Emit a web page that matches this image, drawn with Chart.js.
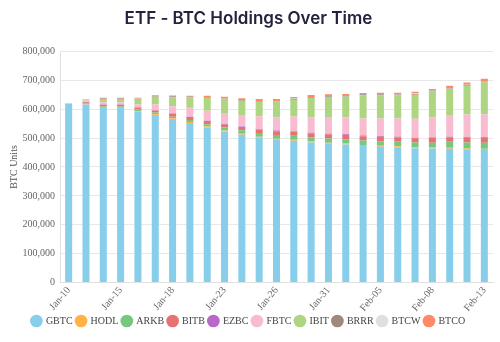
<!DOCTYPE html>
<html>
<head>
<meta charset="utf-8">
<script src="https://cdn.jsdelivr.net/npm/chart.js@4.4.1/dist/chart.umd.min.js"></script>
<style>
  html, body { margin: 0; padding: 0; background: #fff; }
  #wrap { width: 500px; height: 342px; position: relative; }
</style>
</head>
<body>
<div id="wrap"><canvas id="chart"></canvas></div>
<script>
// dates (business days)
const dates = ['Jan-10','Jan-11','Jan-12','Jan-15','Jan-16','Jan-17','Jan-18','Jan-19','Jan-22','Jan-23',
  'Jan-24','Jan-25','Jan-26','Jan-29','Jan-30','Jan-31','Feb-01','Feb-02','Feb-05','Feb-06',
  'Feb-07','Feb-08','Feb-09','Feb-12','Feb-13'];

// holdings per fund, in BTC
const gbtc = [619000,616000,604000,604000,592000,580000,566000,552000,537000,523000,
  512000,501000,494000,491000,485000,480000,478000,473000,470000,468000,
  465000,464000,463000,460000,459000];
const hodl = [1000,2000,3400,3400,2000,2500,2500,3400,3400,3400,3000,3500,3500,3500,4000,4000,3500,3500,3500,3500,3500,4000,3500,4000,4000];
const arkb = [0,2000,2000,2000,4600,5700,5700,6900,7500,10500,12500,13000,13500,13500,13500,14500,14500,15000,15500,16000,16000,16000,20500,20500,20500];
const bitb = [0,4000,5700,5700,6900,6900,9200,10300,11000,9500,10500,11500,13000,14000,14000,14500,14500,15000,16000,15500,15000,16000,16000,17000,17000];
const ezbc = [0,1000,1000,1000,1500,1500,1500,1500,1500,2500,2500,2000,2000,2000,2000,2000,2500,2500,2000,2000,2000,2000,2000,2000,2000];
const fbtc = [0,5000,8000,8000,9200,19500,25000,31000,34000,38000,39000,45000,45500,51000,53000,58000,58000,59000,61000,63000,65500,70000,75000,78000,80000];
const ibit = [0,3000,11500,11500,19000,27000,31700,36600,44000,48000,50000,50000,54000,57500,67500,69000,72000,80000,80500,80000,83000,89000,90000,100000,110500];
const brrr = [0,500,1000,1000,1000,1500,3500,2000,1000,1500,2000,2000,2000,4000,2500,2500,2000,3500,3500,3000,3000,3500,2000,3000,2500];
const btcw = [0,200,300,300,500,500,500,500,500,500,500,500,500,1000,1000,1000,1000,1000,1000,1000,1000,1000,1000,1000,1500];
const btco = [500,500,2300,2300,2500,3500,2000,2500,7000,6000,6000,6500,7000,4500,6500,6500,7000,3500,4000,5000,6000,4500,8000,6500,8000];

const yTicks = [0,100000,200000,300000,400000,500000,600000,700000,800000];

const funds = [
  { name: 'GBTC', data: gbtc, color: '#87ceeb' },
  { name: 'HODL', data: hodl, color: '#ffb347' },
  { name: 'ARKB', data: arkb, color: '#77c77f' },
  { name: 'BITB', data: bitb, color: '#e57373' },
  { name: 'EZBC', data: ezbc, color: '#ba68c8' },
  { name: 'FBTC', data: fbtc, color: '#f8bbd0' },
  { name: 'IBIT', data: ibit, color: '#aed581' },
  { name: 'BRRR', data: brrr, color: '#a1887f' },
  { name: 'BTCW', data: btcw, color: '#e0e0e0' },
  { name: 'BTCO', data: btco, color: '#ff8a65' }
];

const serif = '"Liberation Serif", "DejaVu Serif", serif';

new Chart(document.getElementById('chart'), {
  type: 'bar',
  data: {
    labels: dates,
    datasets: funds.map(f => ({
      label: f.name,
      data: f.data,
      backgroundColor: f.color,
      borderWidth: 0,
      barPercentage: 0.45,
      categoryPercentage: 0.9
    }))
  },
  options: {
    responsive: true,
    maintainAspectRatio: false,
    animation: false,
    layout: { padding: { left: 4, right: 7, top: 0, bottom: 6 } },
    plugins: {
      title: {
        display: true,
        text: 'ETF - BTC Holdings Over Time',
        color: '#23233f',
        font: { family: 'Inter, "Open Sans", sans-serif', size: 17, weight: '600' },
        padding: { top: 9, bottom: 22 }
      },
      legend: {
        position: 'bottom',
        labels: {
          usePointStyle: true,
          pointStyle: 'circle',
          boxWidth: 9,
          boxHeight: 9,
          padding: 4,
          color: '#444',
          font: { family: serif, size: 10 }
        }
      },
      tooltip: { enabled: false }
    },
    scales: {
      x: {
        stacked: true,
        grid: { display: false, drawTicks: false },
        border: { color: '#e0e0e0' },
        afterFit: axis => { axis.height = axis.height - 4; },
        ticks: {
          color: '#666',
          padding: 2,
          font: { family: serif, size: 10 },
          maxRotation: 50,
          minRotation: 50,
          autoSkip: false,
          callback: function (v, i) { return i % 3 === 0 ? dates[i] : ''; }
        }
      },
      y: {
        stacked: true,
        min: 0,
        max: 800000,
        afterBuildTicks: axis => { axis.ticks = yTicks.map(v => ({ value: v })); },
        afterFit: axis => { axis.width = 56; },
        grid: { color: '#e8e8e8', drawTicks: false },
        border: { color: '#e0e0e0' },
        title: {
          display: true,
          text: 'BTC Units',
          color: '#555',
          font: { family: serif, size: 10 }
        },
        ticks: {
          color: '#666',
          padding: 5,
          font: { family: serif, size: 10 },
          callback: v => v.toLocaleString('en-US')
        }
      }
    }
  }
});
</script>
</body>
</html>
